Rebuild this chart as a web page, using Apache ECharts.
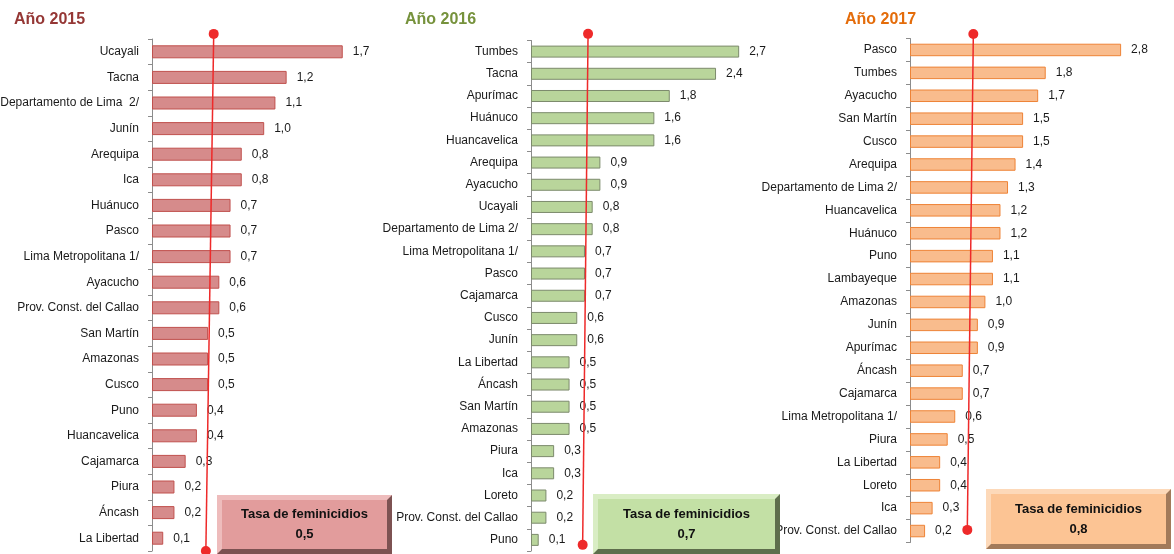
<!DOCTYPE html>
<html>
<head>
<meta charset="utf-8">
<script src="https://cdn.jsdelivr.net/npm/echarts@6/dist/echarts.min.js"></script>
<style>
  html, body { margin: 0; background: #fff; }
  #chart { width: 1174px; height: 554px; }
</style>
</head>
<body>
<div id="chart"></div>
<script>
// datos
const years = ['Año 2015', 'Año 2016', 'Año 2017']

const regions2015 = ['Ucayali', 'Tacna', 'Departamento de Lima  2/', 'Junín', 'Arequipa', 'Ica', 'Huánuco', 'Pasco',
  'Lima Metropolitana 1/', 'Ayacucho', 'Prov. Const. del Callao', 'San Martín', 'Amazonas', 'Cusco', 'Puno',
  'Huancavelica', 'Cajamarca', 'Piura', 'Áncash', 'La Libertad']
const rates2015 = [1.7, 1.2, 1.1, 1.0, 0.8, 0.8, 0.7, 0.7, 0.7, 0.6, 0.6, 0.5, 0.5, 0.5, 0.4, 0.4, 0.3, 0.2, 0.2, 0.1]

const regions2016 = ['Tumbes', 'Tacna', 'Apurímac', 'Huánuco', 'Huancavelica', 'Arequipa', 'Ayacucho', 'Ucayali',
  'Departamento de Lima 2/', 'Lima Metropolitana 1/', 'Pasco', 'Cajamarca', 'Cusco', 'Junín', 'La Libertad',
  'Áncash', 'San Martín', 'Amazonas', 'Piura', 'Ica', 'Loreto', 'Prov. Const. del Callao', 'Puno']
const rates2016 = [2.7, 2.4, 1.8, 1.6, 1.6, 0.9, 0.9, 0.8, 0.8, 0.7, 0.7, 0.7, 0.6, 0.6, 0.5, 0.5, 0.5, 0.5, 0.3, 0.3, 0.2, 0.2, 0.1]

const regions2017 = ['Pasco', 'Tumbes', 'Ayacucho', 'San Martín', 'Cusco', 'Arequipa', 'Departamento de Lima 2/',
  'Huancavelica', 'Huánuco', 'Puno', 'Lambayeque', 'Amazonas', 'Junín', 'Apurímac', 'Áncash', 'Cajamarca',
  'Lima Metropolitana 1/', 'Piura', 'La Libertad', 'Loreto', 'Ica', 'Prov. Const. del Callao']
const rates2017 = [2.8, 1.8, 1.7, 1.5, 1.5, 1.4, 1.3, 1.2, 1.2, 1.1, 1.1, 1.0, 0.9, 0.9, 0.7, 0.7, 0.6, 0.5, 0.4, 0.4, 0.3, 0.2]

// tasa nacional (recuadro) y extremos de la linea roja (arriba, abajo)
const nationalRates = [0.5, 0.7, 0.8]
const lineEnds = [[0.55, 0.48], [0.74, 0.67], [0.84, 0.76]]

const regions = [regions2015, regions2016, regions2017]
const rates = [rates2015, rates2016, rates2017]

// layout de cada panel
const panels = [
  { left: 152, top: 39, height: 512, unit: 112.2, max: 2, barWidth: 13, dotY: [-0.01, 1.0],
    fill: '#d68b8b', border: '#c0504d', titleColor: '#953735', titleX: 14,
    box: { x: 217, y: 495, w: 175, h: 59, main: '#e29c9c', light: '#eebcbc', dark: '#7d5252' } },
  { left: 531, top: 40.5, height: 510.5, unit: 77.1, max: 3, barWidth: 12, dotY: [-0.013, 0.988],
    fill: '#b9d59b', border: '#7c8a6c', titleColor: '#76923c', titleX: 405,
    box: { x: 593, y: 494, w: 187, h: 60, main: '#c3e0a5', light: '#d9edc4', dark: '#5e6e4c' } },
  { left: 910, top: 38.5, height: 504, unit: 75.4, max: 3, barWidth: 12.5, dotY: [-0.009, 0.975],
    fill: '#f9bc8d', border: '#ee8336', titleColor: '#e46c0a', titleX: 845,
    box: { x: 986, y: 489, w: 185, h: 60, main: '#fcc494', light: '#fdd9b9', dark: '#a27a5a' } }
]

const FONT = "'Liberation Sans', Arial, sans-serif"
const fmt = v => v.toFixed(1).replace('.', ',')

const chart = echarts.init(document.getElementById('chart'))

const grid = [], xAxis = [], yAxis = [], series = [], title = [], graphic = []

panels.forEach((p, i) => {
  grid.push({ left: p.left, top: p.top, width: p.unit * p.max, height: p.height,
    containLabel: false, outerBoundsMode: 'none' })
  xAxis.push({ type: 'value', gridIndex: i, min: 0, max: p.max, show: false })
  yAxis.push({
    type: 'category', gridIndex: i, inverse: true, data: regions[i],
    axisLine: { show: true, lineStyle: { color: '#8c8c8c', width: 1 } },
    axisTick: { show: true, length: 4, lineStyle: { color: '#8c8c8c' } },
    axisLabel: { color: '#1a1a1a', fontSize: 12, fontFamily: FONT, margin: 13, interval: 0 }
  })
  yAxis.push({ type: 'value', gridIndex: i, min: 0, max: 1, inverse: true, show: false })

  series.push({
    type: 'bar', xAxisIndex: i, yAxisIndex: 2 * i, data: rates[i], barWidth: p.barWidth,
    itemStyle: { color: p.fill, borderColor: p.border, borderWidth: 1 },
    label: { show: true, position: 'right', distance: 10, color: '#1a1a1a', fontSize: 12, fontFamily: FONT,
      formatter: d => fmt(d.value) },
    silent: true, animation: false
  })
  series.push({
    type: 'line', xAxisIndex: i, yAxisIndex: 2 * i + 1, clip: false, z: 5,
    data: [[lineEnds[i][0], p.dotY[0]], [lineEnds[i][1], p.dotY[1]]],
    symbol: 'circle', symbolSize: 10,
    lineStyle: { color: '#ee2a2a', width: 1.5 },
    itemStyle: { color: '#ee2a2a' },
    silent: true, animation: false
  })

  title.push({
    text: years[i], left: p.titleX, top: 12, padding: 0,
    textStyle: { color: p.titleColor, fontSize: 16, fontWeight: 'bold', fontFamily: FONT }
  })

  const b = p.box, e = 5
  graphic.push(
    { type: 'rect', shape: { x: b.x, y: b.y, width: b.w, height: b.h }, style: { fill: b.dark }, z: 10 },
    { type: 'polygon', shape: { points: [[b.x, b.y], [b.x + b.w, b.y], [b.x + b.w - e, b.y + e], [b.x + e, b.y + b.h - e], [b.x, b.y + b.h]] },
      style: { fill: b.light }, z: 10 },
    { type: 'rect', shape: { x: b.x + e, y: b.y + e, width: b.w - 2 * e, height: b.h - 2 * e }, style: { fill: b.main }, z: 10 },
    { type: 'text', x: b.x + b.w / 2, y: b.y + b.h / 2 - 10, z: 11,
      style: { text: 'Tasa de feminicidios', fill: '#111', font: 'bold 13px ' + FONT, textAlign: 'center', textVerticalAlign: 'middle' } },
    { type: 'text', x: b.x + b.w / 2, y: b.y + b.h / 2 + 10, z: 11,
      style: { text: fmt(nationalRates[i]), fill: '#111', font: 'bold 13px ' + FONT, textAlign: 'center', textVerticalAlign: 'middle' } }
  )
})

chart.setOption({ backgroundColor: '#fff', animation: false, title, grid, xAxis, yAxis, series, graphic })
</script>
</body>
</html>
